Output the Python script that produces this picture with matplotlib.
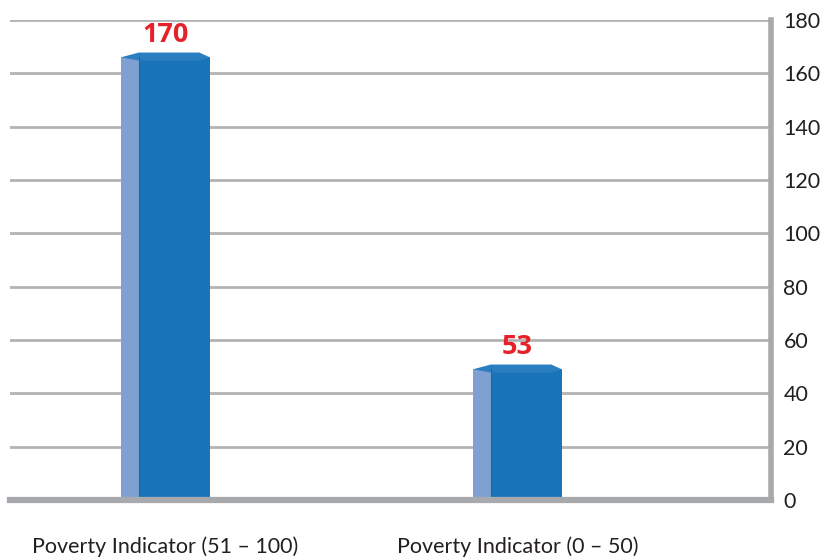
import matplotlib.pyplot as plt
from matplotlib.patches import Polygon

# data
categories = ["Poverty Indicator (51 \u2013 100)", "Poverty Indicator (0 \u2013 50)"]
value_labels = [170, 53]
bar_heights = [166, 49]   # drawn height of the 3D bars as seen in the picture
y_ticks = [0, 20, 40, 60, 80, 100, 120, 140, 160, 180]

plt.rcParams['font.family'] = ['Lato', 'DejaVu Sans']

fig = plt.figure(figsize=(8.23, 5.57), dpi=100)
ax = fig.add_axes([10 / 823, 57 / 557, 761 / 823, 480 / 557])

front_w = 0.2017
side_w = 0.051
front_col = '#1a75b8'
side_col = '#7fa1d2'
cap_col = '#2b7fc0'

xs = list(range(len(categories)))
side_x = [x - front_w / 2 - side_w / 2 for x in xs]
centers = [x - side_w / 2 for x in xs]

ax.bar(side_x, bar_heights, width=side_w, color=side_col, zorder=3)
ax.bar(xs, bar_heights, width=front_w, color=front_col, zorder=3)

for x, h, lab, c in zip(xs, bar_heights, value_labels, centers):
    xl = x - front_w / 2 - side_w
    xr = x + front_w / 2
    # flat cap on top of the bar for the 3D look
    cap = Polygon([(xl, h), (xl + side_w, h + 1.8), (xr - 0.03, h + 1.8),
                   (xr, h), (xr - 0.03, h - 1.2), (xl + side_w, h - 1.2)],
                  closed=True, facecolor=cap_col, edgecolor='none', zorder=4)
    ax.add_patch(cap)
    ax.plot([x - front_w / 2, x - front_w / 2], [0, h], color='#4a5a70', lw=0.8, zorder=4)
    ax.text(c, h + 3.5, str(lab), ha='center', va='bottom', color='#e8202a',
            fontsize=19.5, fontweight='bold', family=['Open Sans', 'DejaVu Sans'], zorder=5)

ax.set_xlim(-0.467, 1.695)
ax.set_ylim(0, 180)

ax.yaxis.tick_right()
ax.set_yticks(y_ticks)
ax.tick_params(axis='y', length=0, pad=9, labelsize=15.5, labelcolor='#231f20')
ax.set_xticks(centers)
ax.set_xticklabels(categories)
ax.tick_params(axis='x', length=0, pad=26, labelsize=15.5, labelcolor='#231f20')

ax.grid(axis='y', color='#b3b3b3', lw=2, zorder=1)
for s in ['top', 'left']:
    ax.spines[s].set_visible(False)
ax.spines['right'].set_color('#a7a9ac')
ax.spines['right'].set_linewidth(4)
ax.spines['bottom'].set_color('#a7a9ac')
ax.spines['bottom'].set_linewidth(4.5)
ax.spines['right'].set_zorder(6)
ax.spines['bottom'].set_zorder(6)

fig.savefig('out.png', dpi=100)
